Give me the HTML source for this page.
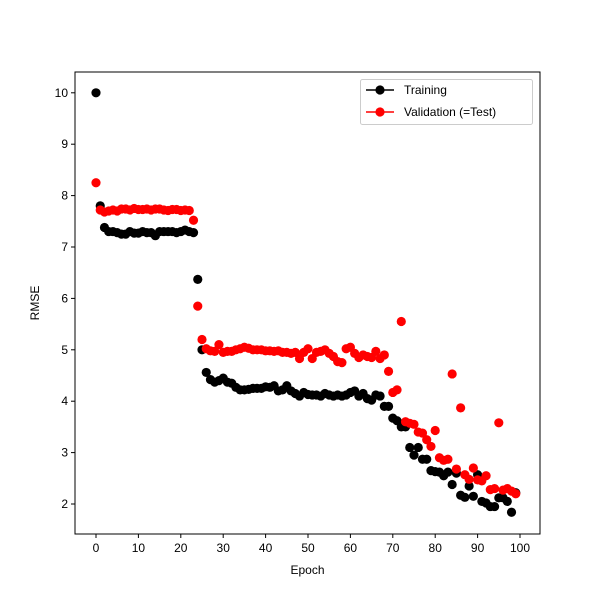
<!DOCTYPE html>
<html><head><meta charset="utf-8"><style>
body{margin:0;background:#fff;}
svg{font-family:"Liberation Sans","DejaVu Sans",sans-serif;}
</style></head><body>
<svg id="chart" width="600" height="600" viewBox="0 0 600 600" xmlns="http://www.w3.org/2000/svg">
<rect width="600" height="600" fill="#fff"/>
<g id="marks"></g>
<g id="axes"></g>
</svg>
<script>
const epochs = Array.from({length:100},(_, i)=>i);
const trainRMSE = [10.0,7.8,7.38,7.3,7.3,7.28,7.25,7.25,7.3,7.27,7.27,7.3,7.28,7.28,7.22,7.3,7.3,7.3,7.3,7.28,7.3,7.33,7.3,7.28,6.37,5.0,4.56,4.42,4.37,4.4,4.45,4.37,4.35,4.27,4.22,4.22,4.23,4.25,4.25,4.25,4.28,4.27,4.3,4.2,4.22,4.3,4.2,4.15,4.1,4.17,4.13,4.12,4.12,4.1,4.15,4.12,4.1,4.12,4.1,4.12,4.17,4.2,4.1,4.15,4.05,4.02,4.12,4.1,3.9,3.9,3.67,3.62,3.5,3.5,3.1,2.95,3.1,2.87,2.87,2.65,2.63,2.62,2.55,2.62,2.38,2.6,2.17,2.13,2.35,2.15,2.57,2.05,2.02,1.95,1.95,2.12,2.12,2.05,1.84,2.22];
const validRMSE = [8.25,7.72,7.68,7.7,7.72,7.7,7.74,7.74,7.72,7.75,7.73,7.73,7.74,7.72,7.74,7.74,7.72,7.71,7.73,7.73,7.71,7.72,7.71,7.52,5.85,5.2,5.02,4.98,4.97,5.1,4.95,4.97,4.97,5.0,5.02,5.05,5.03,5.0,5.0,5.0,4.98,4.98,4.97,4.98,4.95,4.95,4.93,4.95,4.83,4.95,5.02,4.83,4.95,4.97,5.0,4.93,4.87,4.77,4.75,5.02,5.05,4.93,4.85,4.9,4.87,4.85,4.97,4.83,4.9,4.58,4.17,4.22,5.55,3.6,3.57,3.55,3.4,3.38,3.25,3.12,3.43,2.9,2.85,2.87,4.53,2.68,3.87,2.57,2.48,2.7,2.47,2.45,2.55,2.28,2.3,3.58,2.27,2.3,2.25,2.2];
const xTicks = [0,10,20,30,40,50,60,70,80,90,100];
const yTicks = [2,3,4,5,6,7,8,9,10];
const legendLabels = ["Training","Validation (=Test)"];

const NS="http://www.w3.org/2000/svg";
const L=75,R=540,T=72,B=534;
const X=v=>96+v*4.24;
const Y=v=>504-(v-2)*51.4;
function mk(tag,attrs,parent){const e=document.createElementNS(NS,tag);for(const k in attrs)e.setAttribute(k,attrs[k]);parent.appendChild(e);return e;}
const marks=document.getElementById('marks'), axes=document.getElementById('axes');
epochs.forEach((ep,i)=>{
  const c=mk('circle',{cx:X(ep),cy:Y(trainRMSE[i]),r:4.6,fill:'#000'},marks);
  
  
});
epochs.forEach((ep,i)=>{
  const c=mk('circle',{cx:X(ep),cy:Y(validRMSE[i]),r:4.6,fill:'#f00'},marks);
  
  
});
const frame=mk('rect',{x:L,y:T,width:R-L,height:B-T,fill:'none',stroke:'#000','stroke-width':1},axes);


xTicks.forEach(t=>{
  mk('line',{x1:X(t),x2:X(t),y1:B,y2:B+4,stroke:'#000'},axes);
  const tx=mk('text',{x:X(t),y:B+18,'font-size':12,'text-anchor':'middle'},axes);tx.textContent=t;
  
  
});
yTicks.forEach(t=>{
  mk('line',{x1:L-4,x2:L,y1:Y(t),y2:Y(t),stroke:'#000'},axes);
  const tx=mk('text',{x:L-7,y:Y(t)+4,'font-size':12,'text-anchor':'end'},axes);tx.textContent=t;
  
  
});
const xt=mk('text',{x:(L+R)/2,y:574,'font-size':12,'text-anchor':'middle'},axes);xt.textContent='Epoch';


const yt=mk('text',{x:39,y:(T+B)/2,'font-size':12,'text-anchor':'middle',transform:`rotate(-90 39 ${(T+B)/2})`},axes);yt.textContent='RMSE';


const lg=mk('g',{},axes);


mk('rect',{x:360.5,y:79.5,width:172,height:45,rx:2,fill:'#fff','fill-opacity':0.8,stroke:'#ccc'},lg);
const colors=['#000','#f00'];
legendLabels.forEach((lab,i)=>{
  const y=90+i*22;
  const g=mk('g',{},lg);
  
  
  mk('line',{x1:366,x2:394,y1:y,y2:y,stroke:colors[i],'stroke-width':1.5},g);
  mk('circle',{cx:380,cy:y,r:4.6,fill:colors[i]},g);
  const t=mk('text',{x:404,y:y+4,'font-size':12},g);t.textContent=lab;
});
</script>
</body></html>
